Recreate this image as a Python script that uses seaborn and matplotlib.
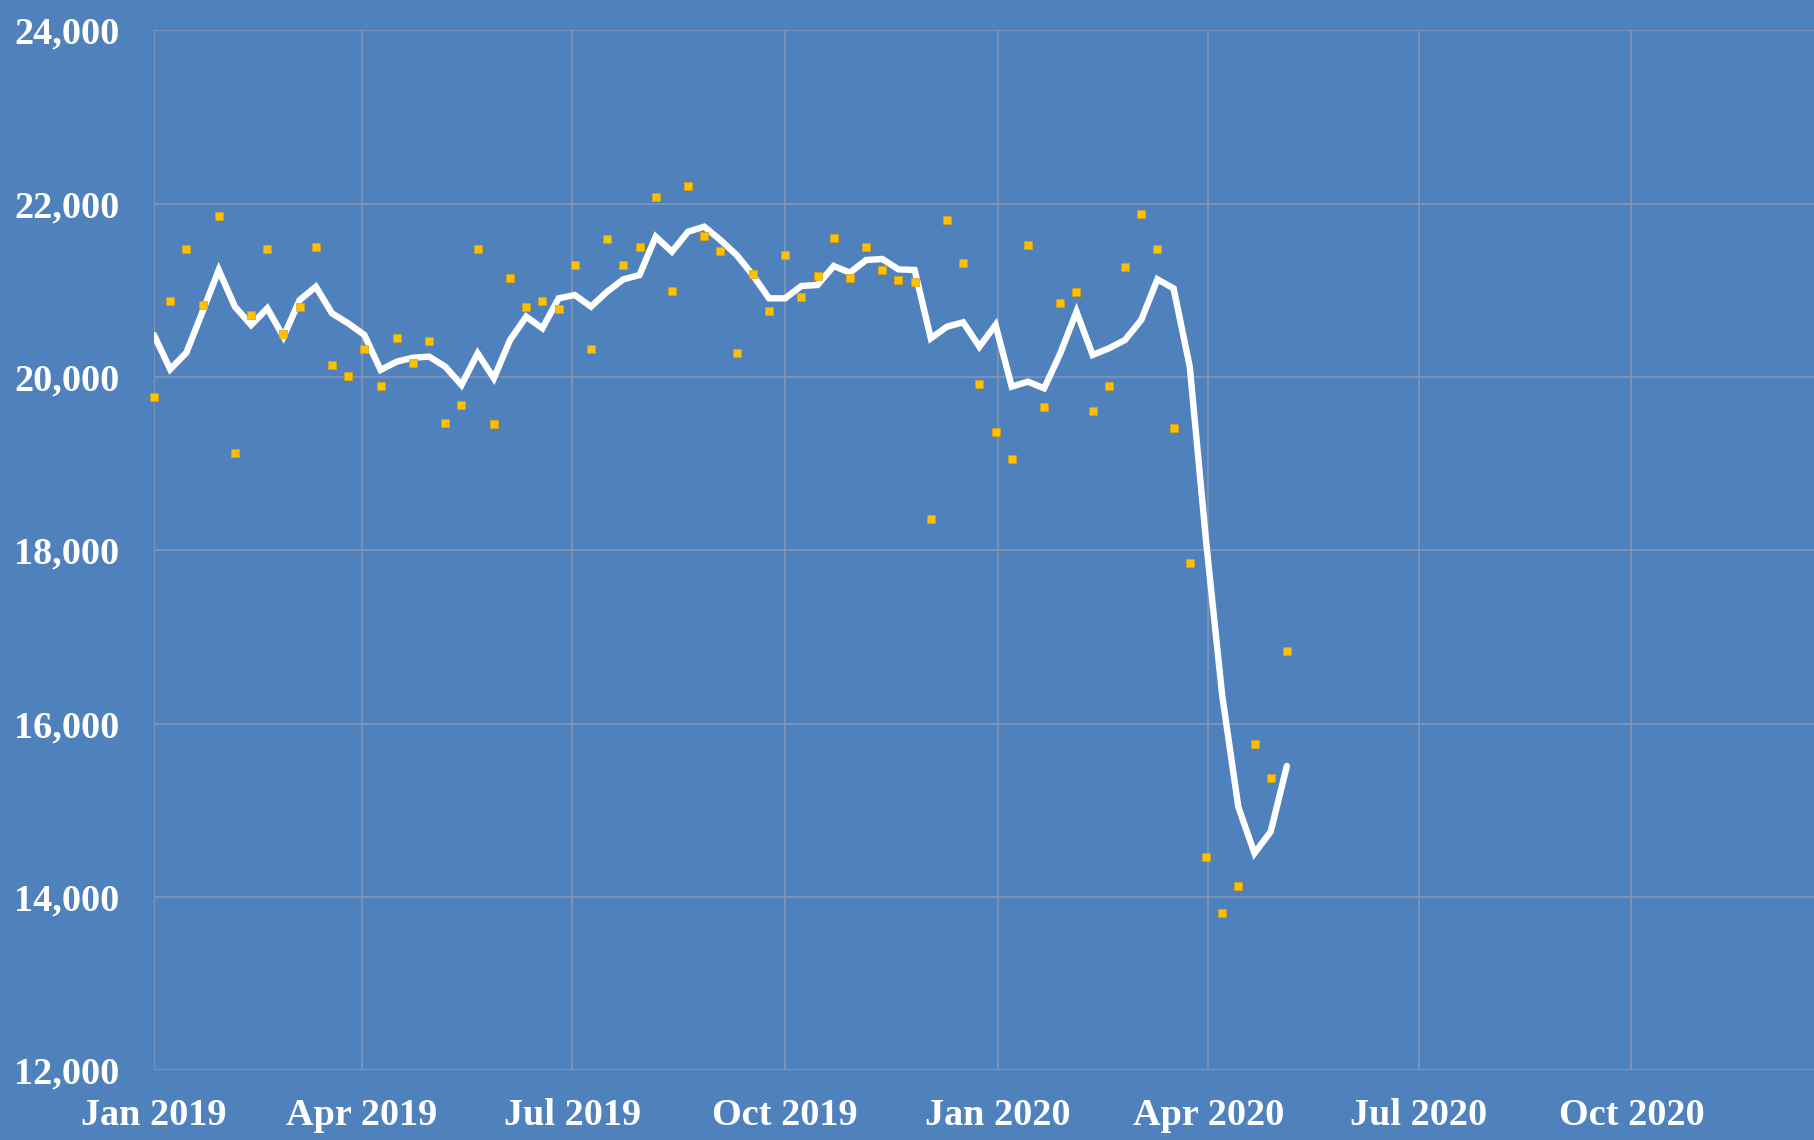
import numpy as np
import pandas as pd
import matplotlib
matplotlib.use("Agg")
import matplotlib.pyplot as plt
import matplotlib.dates as mdates
import seaborn as sns

# ---- data (weekly) ----
start_date = "2019-01-01"
n_weeks = 71

weekly_values = [
    19765, 20877, 21473, 20831, 21854, 19119, 20719, 21477, 20500, 20812,
    21496, 20142, 20008, 20323, 19896, 20454, 20165, 20412, 19473, 19673,
    21477, 19454, 21142, 20808, 20877, 20789, 21296, 20319, 21588, 21296,
    21496, 22077, 20988, 22208, 21631, 21454, 20273, 21185, 20762, 21408,
    20919, 21165, 21608, 21142, 21496, 21231, 21119, 21096, 18366, 21808,
    21319, 19919, 19362, 19054, 21519, 19654, 20854, 20985, 19612, 19896,
    21273, 21877, 21477, 19408, 17858, 14458, 13815, 14123, 15765, 15369,
    16835,
]

trend_values = [
    20485, 20089, 20281, 20754, 21235, 20812, 20600, 20792, 20465, 20888,
    21042, 20735, 20619, 20485, 20081, 20177, 20223, 20235, 20119, 19908,
    20273, 19985, 20427, 20696, 20562, 20908, 20946, 20812, 20985, 21127,
    21177, 21619, 21446, 21677, 21735, 21581, 21408, 21177, 20908, 20908,
    21050, 21062, 21281, 21204, 21350, 21362, 21242, 21235, 20446, 20581,
    20631, 20350, 20600, 19889, 19946, 19869, 20273, 20754, 20254, 20331,
    20427, 20658, 21127, 21023, 20119, 18119, 16331, 15038, 14504, 14753,
    15511,
]

y_ticks = [12000, 14000, 16000, 18000, 20000, 22000, 24000]

dates = pd.date_range(start_date, periods=n_weeks, freq="7D")
df = pd.DataFrame({"date": dates, "weekly": weekly_values, "trend": trend_values})

# ---- styling ----
bg = "#4F81BD"
grid_c = "#8496B8"

sns.set_theme(style="white")
plt.rcParams["font.family"] = ["Liberation Serif", "DejaVu Serif"]

fig = plt.figure(figsize=(18.14, 11.40), dpi=100, facecolor=bg)
ax = fig.add_axes([154 / 1814, 1 - 1070.2 / 1140, (1814 - 154) / 1814, 1039.8 / 1140])
ax.set_facecolor(bg)

sns.lineplot(data=df, x="date", y="trend", ax=ax, color="white", linewidth=4.6,
             zorder=3, solid_joinstyle="miter")
sns.scatterplot(data=df, x="date", y="weekly", ax=ax, marker="s", s=28,
                color="#FFC000", edgecolor="#E0A000", linewidth=0.5, zorder=4,
                clip_on=False)

ax.set_ylim(12000, 24000)
ax.set_xlim(pd.Timestamp("2019-01-01"), pd.Timestamp("2019-01-01") + pd.Timedelta(days=718))

ax.set_yticks(y_ticks)
ax.yaxis.set_major_formatter(matplotlib.ticker.FuncFormatter(lambda v, p: f"{int(v):,}"))
ax.xaxis.set_major_locator(mdates.MonthLocator(bymonth=[1, 4, 7, 10]))
ax.xaxis.set_major_formatter(mdates.DateFormatter("%b %Y"))

ax.grid(True, color=grid_c, linewidth=1.2, zorder=0)
ax.set_axisbelow(True)
for s in ax.spines.values():
    s.set_visible(False)

ax.tick_params(axis="y", length=0, pad=25, labelsize=27.5, labelcolor="white")
ax.tick_params(axis="x", length=0, pad=20, labelsize=27.5, labelcolor="white")
for lab in ax.get_xticklabels() + ax.get_yticklabels():
    lab.set_fontweight("bold")

ax.set_xlabel("")
ax.set_ylabel("")

fig.savefig("out.png", dpi=100, facecolor=bg)
